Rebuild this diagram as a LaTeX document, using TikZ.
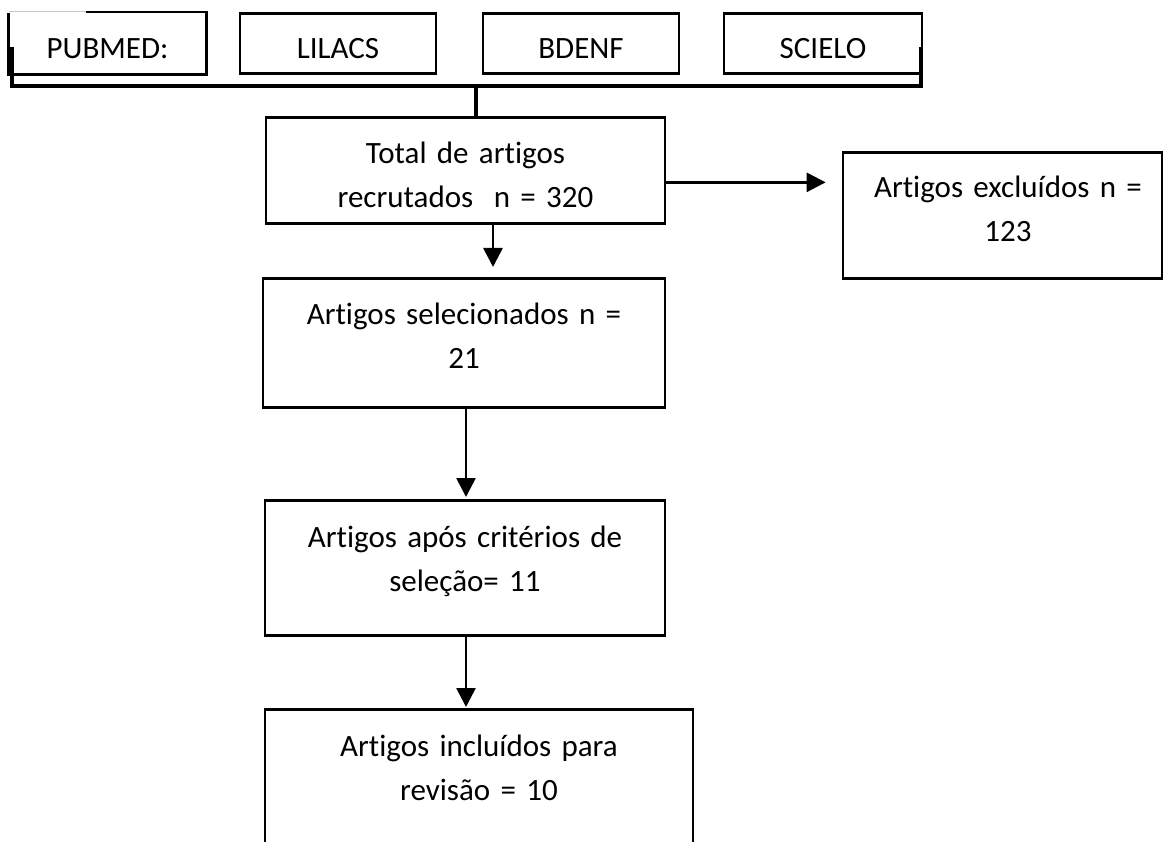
\documentclass[tikz,border=0pt]{standalone}
\usepackage{fontspec}
\setmainfont{Carlito}[Ligatures={NoCommon}]
\usetikzlibrary{arrows.meta}
\begin{document}
\begin{tikzpicture}[x=1pt,y=-1pt,
  box/.style={draw, line width=2.7pt, inner sep=0pt, anchor=north, align=center,
              font=\fontsize{31}{44.5}\selectfont},
  arr/.style={line width=2.7pt, -{Triangle[length=19pt,width=19pt]}},
  brk/.style={line width=4.5pt}]
\useasboundingbox (0,0) rectangle (1164,842);
\clip (0,0) rectangle (1164,842);
\fill[white] (0,0) rectangle (1164,842);
% top database boxes
\node[box, draw=none, text width=195pt, text height=45pt, text depth=15pt] (pub) at (107.5,12) {PUBMED:\hspace*{18pt}};
\node[box, text width=196pt, text height=45pt, text depth=15pt] (lil) at (338,12) {LILACS};
\node[box, text width=196pt, text height=45pt, text depth=15pt] (bde) at (581,12) {BDENF};
\node[box, text width=198pt, text height=45pt, text depth=15pt] (sci) at (823,12) {SCIELO};
\draw[line width=1pt, black!22] (pub.north west) -- ([xshift=77pt]pub.north west);
\draw[line width=2.7pt] ([xshift=77pt]pub.north west) -- (pub.north east) -- (pub.south east) -- (pub.south west) -- ([yshift=-1pt]pub.north west);
% bracket
\coordinate (bl) at (12,47);
\coordinate (blb) at (12,86);
\coordinate (brb) at (921,86);
\coordinate (br) at (921,47);
\coordinate (bm) at (476,86);
\draw[brk] (bl) -- (blb) -- (brb) -- (br);
% flow boxes
\node[box, text width=399pt, text height=46pt, text depth=60pt] (total) at (465.5,116) {Total de artigos\\recrutados\ \ n = 320};
\node[box, text width=319pt, text height=45pt, text depth=81pt] (excl) at (1002.5,151) {\hspace*{11pt}Artigos excluídos n =\\\hspace*{11pt}123};
\node[box, text width=402pt, text height=46pt, text depth=83pt] (sel) at (464,277) {Artigos selecionados n =\\21};
\node[box, text width=400pt, text height=47pt, text depth=88pt] (crit) at (465,499) {Artigos após critérios de\\seleção= 11};
\node[box, text width=428pt, text height=47pt, text depth=200pt] (inc) at (479,708) {Artigos incluídos para\\revisão = 10};
% connectors
\draw[brk] (bm) -- (bm |- total.north);
\draw[arr, shorten >=16pt] ([yshift=-12pt]total.east) -- ([yshift=-12pt]total.east -| excl.west);
\draw[arr, shorten >=10pt] ([xshift=27.5pt]total.south) -- ([xshift=27.5pt]total.south |- sel.north);
\draw[arr, shorten >=2pt] ([xshift=2pt]sel.south) -- ([xshift=2pt]sel.south |- crit.north);
\draw[arr, shorten >=1pt] ([xshift=1pt]crit.south) -- ([xshift=1pt]crit.south |- inc.north);
\end{tikzpicture}
\end{document}
